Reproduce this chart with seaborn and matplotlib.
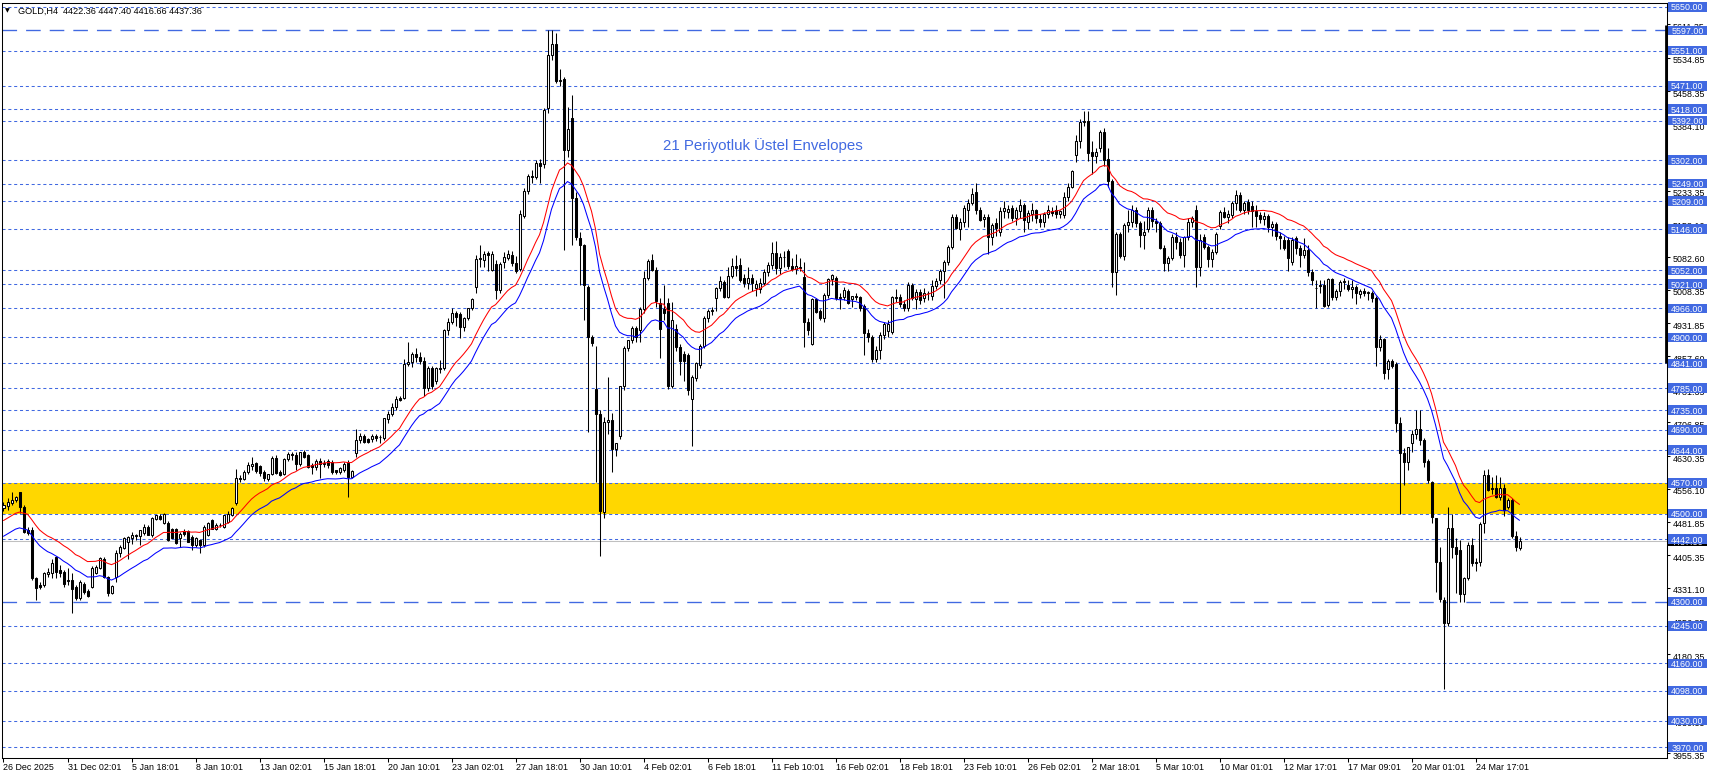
import numpy as np
import pandas as pd
import matplotlib
matplotlib.use("Agg")
import matplotlib.pyplot as plt
import matplotlib.transforms as mtransforms
from matplotlib.patches import Rectangle
import seaborn as sns

# ---------------- data ----------------
opens = [
    4512, 4518, 4524, 4530, 4548, 4516, 4462, 4463, 4353, 4338,
    4338, 4363, 4365, 4402, 4372, 4368, 4347, 4349, 4334, 4308,
    4340, 4325, 4334, 4364, 4376, 4398, 4357, 4319, 4357, 4410,
    4421, 4436, 4444, 4450, 4449, 4455, 4470, 4451, 4487, 4495,
    4478, 4478, 4464, 4464, 4444, 4460, 4461, 4447, 4429, 4440,
    4429, 4451, 4485, 4466, 4474, 4470, 4482, 4497, 4523, 4580,
    4578, 4595, 4608, 4614, 4607, 4595, 4578, 4590, 4627, 4595,
    4590, 4623, 4634, 4633, 4612, 4640, 4632, 4610, 4605, 4620,
    4612, 4619, 4617, 4598, 4594, 4600, 4614, 4584, 4637, 4666,
    4676, 4669, 4669, 4676, 4673, 4671, 4714, 4727, 4742, 4762,
    4762, 4840, 4843, 4862, 4855, 4847, 4784, 4830, 4800, 4830,
    4830, 4916, 4935, 4956, 4954, 4924, 4945, 4966, 5014, 5077,
    5075, 5092, 5053, 5067, 5007, 5070, 5081, 5088, 5068, 5055,
    5176, 5232, 5266, 5264, 5295, 5293, 5420, 5540, 5565, 5483,
    5487, 5326, 5399, 5216, 5125, 5109, 5015, 4901, 4783, 4725,
    4503, 4707, 4712, 4646, 4675, 4790, 4876, 4895, 4921, 4917,
    4965, 5034, 5075, 5052, 4979, 4965, 4978, 4790, 4920, 4878,
    4862, 4860, 4760, 4808, 4838, 4881, 4944, 4960, 4989, 5011,
    5025, 4992, 5039, 5062, 5065, 5035, 5023, 5035, 5011, 5009,
    5024, 5049, 5064, 5091, 5057, 5083, 5097, 5061, 5055, 5060,
    5038, 4936, 4886, 4986, 4960, 4943, 4996, 5032, 5034, 4990,
    4992, 5006, 4986, 4993, 4991, 4971, 4909, 4900, 4852, 4872,
    4905, 4915, 4913, 4992, 4992, 4976, 4966, 5019, 4987, 5004,
    4990, 5001, 4993, 5017, 5030, 5051, 5070, 5106, 5173, 5145,
    5163, 5190, 5205, 5230, 5189, 5168, 5174, 5127, 5159, 5140,
    5188, 5185, 5193, 5170, 5187, 5200, 5162, 5180, 5189, 5168,
    5162, 5180, 5186, 5189, 5180, 5178, 5219, 5242, 5315, 5345,
    5388, 5392, 5320, 5312, 5329, 5367, 5304, 5256, 5049, 5135,
    5085, 5155, 5163, 5189, 5160, 5132, 5147, 5189, 5165, 5160,
    5104, 5068, 5080, 5129, 5117, 5087, 5128, 5162, 5190, 5060,
    5128, 5106, 5079, 5094, 5152, 5185, 5174, 5178, 5204, 5223,
    5189, 5208, 5198, 5187, 5177, 5168, 5175, 5150, 5158, 5130,
    5121, 5121, 5072, 5125, 5102, 5087, 5098, 5049, 5012, 5018,
    5020, 4974, 5032, 4991, 5006, 5026, 5020, 5009, 5015, 4999,
    5005, 5001, 5000, 4990, 4878, 4896, 4829, 4847, 4840, 4705,
    4637, 4616, 4660, 4681, 4691, 4667, 4620, 4572, 4489, 4389,
    4304, 4252, 4467, 4423, 4418, 4317, 4353, 4429, 4390, 4391,
    4478, 4588, 4557, 4557, 4538, 4557, 4516, 4531, 4448, 4422.36,
]
highs = [
    4527, 4535, 4550, 4540, 4550, 4519, 4470, 4470, 4357, 4345,
    4368, 4376, 4398, 4404, 4383, 4372, 4376, 4364, 4338, 4349,
    4345, 4328, 4380, 4384, 4402, 4402, 4358, 4337, 4417, 4428,
    4446, 4448, 4459, 4453, 4463, 4476, 4474, 4493, 4497, 4500,
    4501, 4484, 4468, 4468, 4459, 4465, 4463, 4451, 4446, 4442,
    4475, 4480, 4487, 4478, 4478, 4497, 4505, 4514, 4602, 4588,
    4600, 4616, 4629, 4618, 4610, 4599, 4590, 4630, 4633, 4598,
    4626, 4640, 4640, 4640, 4640, 4645, 4635, 4615, 4625, 4626,
    4622, 4625, 4622, 4600, 4605, 4616, 4622, 4598, 4691, 4683,
    4680, 4672, 4680, 4680, 4678, 4718, 4733, 4750, 4768, 4766,
    4850, 4890, 4866, 4875, 4866, 4856, 4835, 4836, 4832, 4848,
    4918, 4945, 4967, 4960, 4958, 4947, 4966, 4990, 5087, 5110,
    5097, 5095, 5097, 5075, 5070, 5093, 5098, 5095, 5085, 5190,
    5240, 5270, 5280, 5302, 5305, 5420, 5597, 5597, 5590, 5510,
    5492, 5423, 5450, 5230, 5140, 5112, 5020, 4905, 4881, 4735,
    4720, 4811, 4728, 4660, 4790, 4880, 4895, 4925, 4925, 4970,
    5050, 5078, 5090, 5060, 4990, 5020, 4990, 4980, 4930, 4885,
    4870, 4865, 4815, 4845, 4885, 4948, 4965, 4968, 5015, 5040,
    5030, 5060, 5080, 5087, 5080, 5045, 5060, 5045, 5030, 5035,
    5055, 5070, 5117, 5118, 5092, 5095, 5100, 5080, 5090, 5080,
    5072, 4945, 4990, 4990, 4965, 5000, 5035, 5045, 5040, 5000,
    5015, 5010, 4995, 5000, 4995, 4975, 4920, 4905, 4880, 4912,
    4935, 4940, 4995, 5010, 4998, 4985, 5025, 5023, 5010, 5010,
    5012, 5005, 5030, 5035, 5055, 5075, 5110, 5180, 5180, 5170,
    5200, 5215, 5240, 5250, 5195, 5180, 5180, 5160, 5170, 5195,
    5210, 5200, 5200, 5195, 5215, 5205, 5190, 5205, 5192, 5180,
    5185, 5200, 5195, 5200, 5190, 5230, 5250, 5280, 5360, 5395,
    5415, 5415, 5345, 5330, 5370, 5375, 5330, 5260, 5140, 5140,
    5160, 5190, 5200, 5195, 5165, 5165, 5195, 5195, 5170, 5165,
    5110, 5085, 5135, 5140, 5125, 5130, 5170, 5175, 5200, 5135,
    5135, 5110, 5100, 5140, 5190, 5195, 5190, 5210, 5235, 5230,
    5210, 5215, 5210, 5200, 5185, 5185, 5180, 5165, 5162, 5140,
    5130, 5128, 5128, 5130, 5110, 5125, 5110, 5055, 5030, 5030,
    5030, 5035, 5035, 5010, 5030, 5035, 5030, 5030, 5020, 5010,
    5012, 5005, 5005, 4993, 4905, 4898, 4850, 4852, 4845, 4720,
    4650, 4650, 4690, 4735, 4735, 4672, 4625, 4575, 4490, 4425,
    4310, 4515, 4500, 4445, 4440, 4356, 4435, 4445, 4400, 4480,
    4600, 4602, 4582, 4588, 4582, 4567, 4535, 4535, 4460, 4447.40,
]
lows = [
    4505, 4508, 4519, 4526, 4501, 4455, 4452, 4349, 4304, 4328,
    4334, 4357, 4353, 4353, 4357, 4334, 4338, 4275, 4304, 4304,
    4318, 4311, 4332, 4362, 4374, 4353, 4313, 4317, 4345, 4402,
    4420, 4398, 4432, 4440, 4429, 4451, 4451, 4447, 4486, 4485,
    4477, 4438, 4444, 4432, 4425, 4450, 4436, 4418, 4425, 4410,
    4425, 4449, 4466, 4462, 4469, 4468, 4478, 4495, 4519, 4572,
    4576, 4589, 4600, 4591, 4585, 4575, 4574, 4587, 4590, 4586,
    4588, 4620, 4622, 4600, 4608, 4626, 4604, 4590, 4598, 4580,
    4605, 4604, 4590, 4590, 4590, 4595, 4537, 4580, 4629, 4660,
    4660, 4660, 4663, 4665, 4660, 4668, 4706, 4722, 4735, 4756,
    4760, 4834, 4832, 4845, 4840, 4768, 4778, 4782, 4795, 4820,
    4826, 4905, 4930, 4925, 4898, 4915, 4940, 4962, 5001, 5060,
    5060, 5050, 5050, 4988, 5000, 5058, 5075, 5062, 5046, 5050,
    5170, 5225, 5250, 5260, 5250, 5285, 5410, 5530, 5478, 5470,
    5099, 5310, 5109, 5120, 5020, 4940, 4685, 4880, 4572, 4403,
    4490, 4681, 4595, 4630, 4670, 4780, 4870, 4888, 4890, 4890,
    4955, 5030, 5050, 4970, 4854, 4940, 4783, 4786, 4870, 4815,
    4800, 4770, 4654, 4800, 4830, 4875, 4935, 4950, 4960, 5005,
    4990, 4990, 5035, 5040, 5025, 5015, 5010, 5005, 4995, 5000,
    5018, 5040, 5055, 5045, 5045, 5060, 5055, 5050, 5045, 5050,
    4879, 4905, 4883, 4955, 4940, 4935, 4990, 5020, 4985, 4965,
    4985, 4975, 4970, 4985, 4960, 4860, 4890, 4845, 4845, 4850,
    4897, 4900, 4908, 4980, 4970, 4960, 4960, 4985, 4965, 4975,
    4980, 4985, 4985, 5010, 5022, 4989, 5065, 5100, 5145, 5120,
    5150, 5150, 5200, 5180, 5165, 5150, 5090, 5110, 5130, 5130,
    5170, 5170, 5165, 5155, 5170, 5140, 5145, 5165, 5160, 5150,
    5150, 5170, 5175, 5170, 5170, 5170, 5210, 5238, 5299, 5330,
    5380, 5300, 5270, 5295, 5320, 5290, 5242, 5015, 4996, 5080,
    5075, 5140, 5150, 5150, 5105, 5100, 5140, 5150, 5140, 5100,
    5050, 5050, 5075, 5100, 5080, 5060, 5120, 5150, 5015, 5040,
    5100, 5060, 5060, 5090, 5145, 5170, 5160, 5170, 5190, 5185,
    5180, 5180, 5150, 5150, 5160, 5155, 5140, 5130, 5120, 5100,
    5098, 5050, 5065, 5090, 5060, 5080, 5040, 5020, 4966, 5000,
    4970, 4968, 4985, 4985, 4995, 5010, 5005, 4990, 4975, 4990,
    4995, 4985, 4980, 4835, 4870, 4805, 4805, 4830, 4685, 4500,
    4565, 4600, 4640, 4670, 4655, 4605, 4570, 4478, 4323, 4300,
    4101, 4245, 4400, 4320, 4300, 4300, 4350, 4380, 4370, 4380,
    4455, 4552, 4545, 4535, 4530, 4495, 4510, 4445, 4415, 4416.66,
]
closes = [
    4520, 4526, 4531, 4537, 4514, 4459, 4457, 4353, 4330, 4333,
    4364, 4367, 4387, 4368, 4364, 4340, 4350, 4328, 4308, 4345,
    4322, 4314, 4376, 4378, 4400, 4357, 4319, 4336, 4410, 4423,
    4444, 4446, 4451, 4451, 4462, 4470, 4451, 4491, 4497, 4488,
    4500, 4440, 4444, 4433, 4454, 4453, 4436, 4429, 4444, 4429,
    4470, 4478, 4466, 4475, 4473, 4497, 4500, 4512, 4580, 4578,
    4595, 4610, 4612, 4597, 4591, 4580, 4589, 4627, 4591, 4588,
    4624, 4635, 4633, 4612, 4639, 4629, 4606, 4606, 4620, 4612,
    4615, 4610, 4595, 4594, 4603, 4612, 4584, 4597, 4667, 4676,
    4663, 4663, 4676, 4671, 4674, 4716, 4727, 4742, 4761, 4758,
    4840, 4845, 4862, 4855, 4847, 4784, 4830, 4790, 4830, 4829,
    4916, 4935, 4956, 4947, 4924, 4945, 4966, 4988, 5077, 5080,
    5089, 5087, 5090, 5007, 5067, 5083, 5089, 5068, 5050, 5181,
    5232, 5266, 5264, 5295, 5290, 5416, 5540, 5565, 5483, 5485,
    5326, 5373, 5216, 5129, 5109, 5019, 4901, 4887, 4725, 4505,
    4709, 4712, 4646, 4660, 4790, 4876, 4895, 4921, 4901, 4965,
    5034, 5073, 5052, 4983, 4920, 4956, 4790, 4940, 4878, 4846,
    4846, 4780, 4811, 4842, 4881, 4944, 4960, 4962, 5011, 5027,
    4992, 5039, 5062, 5058, 5030, 5023, 5035, 5023, 5022, 5024,
    5049, 5064, 5092, 5057, 5083, 5082, 5061, 5055, 5061, 5058,
    4936, 4917, 4986, 4958, 4943, 4996, 5032, 5041, 4989, 4992,
    5008, 4979, 4995, 4991, 4966, 4909, 4900, 4852, 4872, 4905,
    4930, 4930, 4992, 4990, 4976, 4966, 5019, 4989, 5004, 4985,
    5001, 5000, 5017, 5027, 5051, 5072, 5106, 5174, 5148, 5163,
    5193, 5204, 5225, 5189, 5167, 5174, 5129, 5155, 5148, 5188,
    5193, 5191, 5170, 5189, 5200, 5167, 5182, 5189, 5170, 5162,
    5180, 5189, 5183, 5180, 5186, 5219, 5242, 5277, 5346, 5390,
    5392, 5319, 5312, 5321, 5367, 5303, 5256, 5049, 5135, 5085,
    5155, 5163, 5189, 5160, 5132, 5140, 5189, 5165, 5159, 5104,
    5068, 5080, 5129, 5117, 5087, 5128, 5162, 5170, 5060, 5120,
    5106, 5079, 5094, 5135, 5185, 5174, 5180, 5204, 5223, 5189,
    5204, 5189, 5187, 5175, 5168, 5175, 5150, 5158, 5130, 5125,
    5104, 5080, 5121, 5102, 5087, 5098, 5049, 5030, 5011, 5016,
    4971, 5032, 4991, 5006, 5026, 5028, 5009, 5015, 5000, 5005,
    5000, 5001, 4989, 4878, 4896, 4818, 4847, 4835, 4705, 4637,
    4616, 4650, 4681, 4691, 4667, 4618, 4576, 4493, 4389, 4305,
    4252, 4467, 4423, 4408, 4317, 4353, 4429, 4387, 4388, 4476,
    4588, 4554, 4555, 4538, 4557, 4508, 4531, 4448, 4423, 4437.36,
]

level_lines = [5650, 5551, 5471, 5418, 5392, 5302, 5249, 5209, 5146, 5052,
               5021, 4966, 4900, 4841, 4785, 4735, 4690, 4644, 4570, 4500,
               4442, 4245, 4160, 4098, 4030, 3970]
key_lines = [5597, 4300]
zone = [4500, 4570]
price_ticks = [5611.35, 5534.85, 5458.35, 5384.10, 5308.85, 5233.35, 5158.10,
               5082.60, 5008.35, 4931.85, 4857.60, 4781.35, 4706.85, 4630.35,
               4556.10, 4481.85, 4405.35, 4331.10, 4256.85, 4180.35, 4105.85,
               4030.35, 3955.35]
time_labels = ["26 Dec 2025", "31 Dec 02:01", "5 Jan 18:01", "8 Jan 10:01",
               "13 Jan 02:01", "15 Jan 18:01", "20 Jan 10:01", "23 Jan 02:01",
               "27 Jan 18:01", "30 Jan 10:01", "4 Feb 02:01", "6 Feb 18:01",
               "11 Feb 10:01", "16 Feb 02:01", "18 Feb 18:01", "23 Feb 10:01",
               "26 Feb 02:01", "2 Mar 18:01", "5 Mar 10:01", "10 Mar 01:01",
               "12 Mar 17:01", "17 Mar 09:01", "20 Mar 01:01", "24 Mar 17:01"]
time_label_bars = [0, 16, 32, 48, 64, 80, 96, 112, 128, 144, 160, 176, 192,
                   208, 224, 240, 256, 272, 288, 304, 320, 336, 352, 368]
ema_period = 21
envelope_dev_pct = 0.4
ema_seed = 4461
last_price = 4437.36
symbol = "GOLD,H4"
indicator_text = "21 Periyotluk Üstel Envelopes"

for arr in (opens, highs, lows, closes):
    assert len(arr) == 380, len(arr)

# ---------------- derived ----------------
n = len(closes)
idx = np.arange(n)
o = np.array(opens, float); h = np.array(highs, float)
l = np.array(lows, float); c = np.array(closes, float)
ema = pd.Series([ema_seed] + list(c)).ewm(span=ema_period, adjust=False).mean().values[1:]
upper = ema * (1 + envelope_dev_pct / 100)
lower = ema * (1 - envelope_dev_pct / 100)
df = pd.DataFrame({"bar": idx, "upper": upper, "lower": lower})

# ---------------- style ----------------
sns.set_style("white")
plt.rcParams["font.family"] = ["Liberation Sans", "DejaVu Sans"]
plt.rcParams["lines.scale_dashes"] = False

W, H = 1712, 776
fig = plt.figure(figsize=(W / 100, H / 100), dpi=100)
fig.patch.set_facecolor("white")
x0, x1, ytop, ybot = 2, 1667, 2.5, 757.5
ax = fig.add_axes([x0 / W, (H - ybot) / H, (x1 - x0) / W, (ybot - ytop) / H])
ax.set_facecolor("white")

BLUE = "#4169E1"
LW = 0.75
FS = 6.4

ax.axhspan(zone[0], zone[1], color="#FFD700", lw=0, zorder=0)
for lv in level_lines:
    ax.axhline(lv, color=BLUE, lw=LW, linestyle=(0, (2.2, 2.0)), zorder=1)
for lv in key_lines:
    ax.axhline(lv, color=BLUE, lw=LW * 1.3, linestyle=(0, (10.5, 6.5)), zorder=1)
ax.axhline(last_price, color="#C0C0C0", lw=LW, zorder=1)

# candles
ax.vlines(idx, l, h, color="black", lw=LW, zorder=3)
body_low = np.minimum(o, c)
body_h = np.maximum(np.abs(c - o), 1.2)
colors = np.where(c >= o, "white", "black")
ax.bar(idx, body_h, bottom=body_low, width=0.5, color=colors,
       edgecolor="black", linewidth=LW, zorder=4)

# envelopes
sns.lineplot(data=df, x="bar", y="upper", color="red", lw=LW, ax=ax, zorder=5, legend=False)
sns.lineplot(data=df, x="bar", y="lower", color="blue", lw=LW, ax=ax, zorder=5, legend=False)

# limits: 4px per bar, bar i centred at 3.5 + 4i pixels
ax.set_xlim((x0 - 3.5) / 4, (x1 - 3.5) / 4)
ppu = 0.4405  # pixels per price unit
ax.set_ylim(5650 - (ybot - 7) / ppu, 5650 + (7 - ytop) / ppu)
ax.set_xlabel(""); ax.set_ylabel("")

for s in ax.spines.values():
    s.set_color("black"); s.set_linewidth(LW); s.set_visible(True)

# axes ticks
ax.yaxis.tick_right()
ax.set_yticks(price_ticks)
ax.tick_params(axis="y", which="both", right=True, left=False, labelright=False,
               labelleft=False, length=2.2, width=LW, colors="black", direction="out")
ax.set_xticks(time_label_bars)
ax.set_xticklabels(time_labels, ha="left")
ax.tick_params(axis="x", bottom=True, length=2.6, width=LW, pad=1.5,
               labelsize=FS, colors="black", direction="out")
for t in ax.get_xticklabels():
    t.set_horizontalalignment("left")

blend = mtransforms.blended_transform_factory(ax.transAxes, ax.transData)
pw = x1 - x0
# price scale labels (drawn slightly below their tick, as in the terminal)
for v in price_ticks:
    ax.text(1 + 5.7 / pw, v - 2.0 / ppu, f"{v:.2f}", transform=blend, ha="left",
            va="center_baseline", fontsize=FS, color="black", clip_on=False, zorder=8)

# thick scale marker on the right edge
ax.plot([1 - 0.8 / pw] * 2, [(ybot - 363) / (ybot - ytop), (ybot - 25) / (ybot - ytop)],
        transform=ax.transAxes, color="black", lw=2.0, solid_capstyle="butt",
        clip_on=False, zorder=6)

# price boxes on the right axis (each later box covers the previous ones)
bw = 39.5 / pw
bh = 9.6 / ppu
zcount = [20]
def price_box(val, fc, txt):
    z = zcount[0]
    ax.add_patch(Rectangle((1 + 0.6 / pw, val - bh / 2), bw, bh, transform=blend,
                           fc=fc, ec="none", clip_on=False, zorder=z))
    ax.text(1 + (0.6 + bw * pw / 2) / pw, val, txt, transform=blend,
            ha="center", va="center_baseline", color="white", fontsize=FS,
            clip_on=False, zorder=z + 1)
    zcount[0] += 2

price_box(last_price, "black", f"{last_price:.2f}")
for lv in sorted(level_lines + key_lines):
    price_box(lv, BLUE, f"{lv:.2f}")

# indicator label
ax.text((663 - 3.5) / 4, 5650 - (146 - 7) / ppu, indicator_text, color=BLUE,
        fontsize=10.8, ha="left", va="center", zorder=7)

# symbol header
hdr = f"{symbol}  {opens[-1]:.2f} {highs[-1]:.2f} {lows[-1]:.2f} {closes[-1]:.2f}"
fig.text(4.5 / W, 1 - 11 / H, "\u25BC", fontsize=4.5, family="DejaVu Sans",
         ha="left", va="center", color="black")
fig.text(18 / W, 1 - 11 / H, hdr, fontsize=6.6, ha="left", va="center", color="black")

fig.savefig("out.png", dpi=100, facecolor="white")
